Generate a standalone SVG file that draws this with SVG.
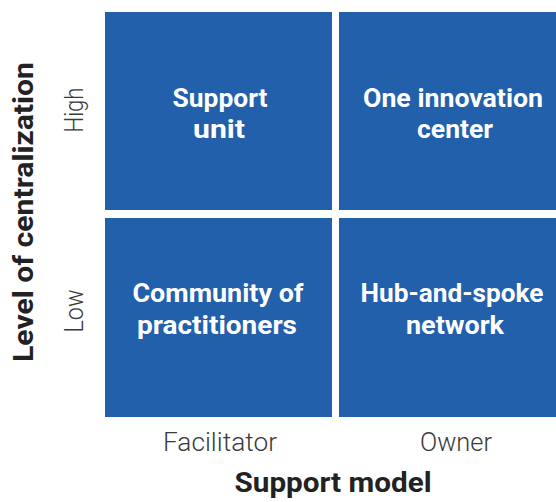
<svg xmlns="http://www.w3.org/2000/svg" width="556" height="502" viewBox="0 0 556 502">
<style>
.cell{fill:#2260ac}
.in{font-family:Roboto,"Liberation Sans",sans-serif;font-weight:700;font-size:26px;fill:#fff;text-anchor:middle}
.tick{font-family:Roboto,"Liberation Sans",sans-serif;font-weight:300;font-size:25px;fill:#3a3a3a;text-anchor:middle}
.axis{font-family:Roboto,"Liberation Sans",sans-serif;font-weight:700;font-size:28px;fill:#222;text-anchor:middle}
</style>
<rect width="556" height="502" fill="#fff"/>
<g id="support-unit">
<rect class="cell" x="105" y="12" width="227" height="198"/>
<text class="in" x="220" y="107" textLength="95" lengthAdjust="spacingAndGlyphs">Support</text>
<text class="in" x="219" y="138" textLength="52" lengthAdjust="spacingAndGlyphs">unit</text>
</g>
<g id="one-innovation-center">
<rect class="cell" x="339" y="12" width="217" height="198"/>
<text class="in" x="453" y="107" textLength="180" lengthAdjust="spacingAndGlyphs">One innovation</text>
<text class="in" x="455" y="138" textLength="76" lengthAdjust="spacingAndGlyphs">center</text>
</g>
<g id="community-of-practitioners">
<rect class="cell" x="105" y="218" width="227" height="199"/>
<text class="in" x="218" y="302" textLength="171" lengthAdjust="spacingAndGlyphs">Community of</text>
<text class="in" x="217" y="334" textLength="160" lengthAdjust="spacingAndGlyphs">practitioners</text>
</g>
<g id="hub-and-spoke-network">
<rect class="cell" x="339" y="218" width="217" height="199"/>
<text class="in" x="452" y="302" textLength="183" lengthAdjust="spacingAndGlyphs">Hub-and-spoke</text>
<text class="in" x="455" y="334" textLength="98" lengthAdjust="spacingAndGlyphs">network</text>
</g>
<g id="labels">
<text class="tick" transform="translate(83 110) rotate(-90)" textLength="45" lengthAdjust="spacingAndGlyphs">High</text>
<text class="tick" transform="translate(83 311) rotate(-90)" textLength="43" lengthAdjust="spacingAndGlyphs">Low</text>
<text class="axis" transform="translate(33 212) rotate(-90)" textLength="300" lengthAdjust="spacingAndGlyphs">Level of centralization</text>
<text class="tick" x="220" y="451" textLength="114" lengthAdjust="spacingAndGlyphs">Facilitator</text>
<text class="tick" x="456" y="451" textLength="72" lengthAdjust="spacingAndGlyphs">Owner</text>
<text class="axis" x="333" y="492" textLength="197" lengthAdjust="spacingAndGlyphs">Support model</text>
</g>
<g id="connectors"></g>
</svg>
